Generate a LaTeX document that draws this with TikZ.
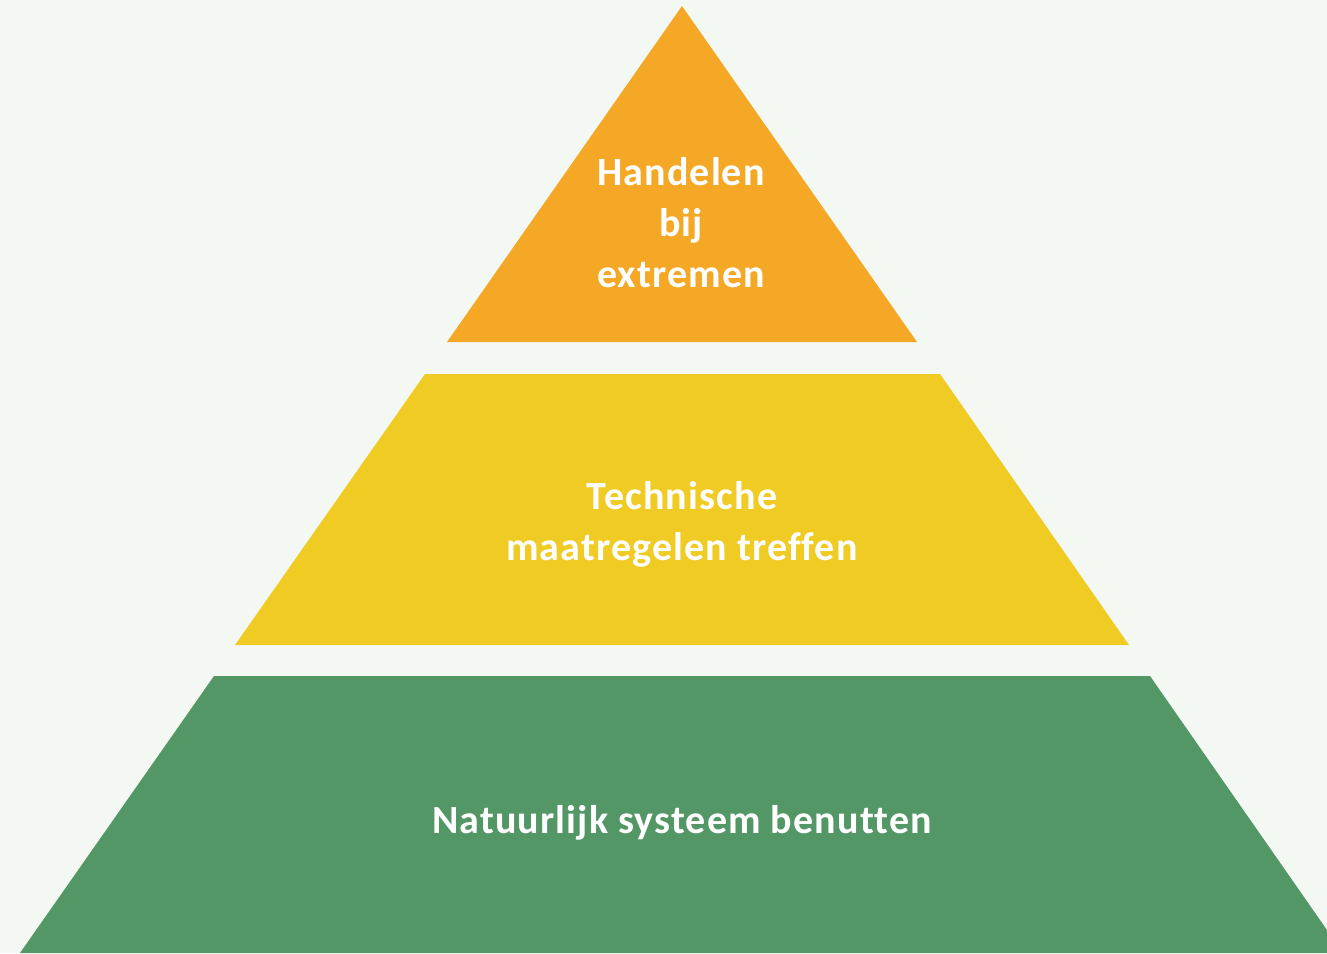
\documentclass[tikz,border=0pt]{standalone}
\usepackage{fontspec}
\setmainfont{Carlito}[Ligatures=NoCommon,LetterSpace=2.8]
\definecolor{bgA}{HTML}{F3F9F2}
\definecolor{orangeA}{HTML}{F4A825}
\definecolor{yellowA}{HTML}{EFCB23}
\definecolor{greenA}{HTML}{549767}
\begin{document}
\begin{tikzpicture}[x=1pt,y=-1pt,line join=round,
	lbl/.style={text=white,font=\bfseries\fontsize{40}{51}\selectfont,align=center,inner sep=0pt}]
	\clip (0,0) rectangle (1327,953);
	\fill[bgA] (0,0) rectangle (1327,953);
	\path
	(682,6) coordinate (T_0)
	(447,342) coordinate (T_1) (917,342) coordinate (T_2)
	(425,374) coordinate (M_1) (940,374) coordinate (M_2)
	(235,645) coordinate (M_3) (1129,645) coordinate (M_4)
	(214,676) coordinate (B_1) (1150,676) coordinate (B_2)
	(20,953) coordinate (B_3) (1343,953) coordinate (B_4)
	;
	\fill[orangeA] (T_0)--(T_2)--(T_1)--cycle;
	\fill[yellowA] (M_1)--(M_2)--(M_4)--(M_3)--cycle;
	\fill[greenA] (B_1)--(B_2)--(B_4)--(B_3)--cycle;
	\node[lbl] (top) at (681,223) {Handelen\\bij\\extremen};
	\node[lbl] (mid) at (682,524) {Technische\\maatregelen treffen};
	\node[lbl] (base) at (682,823) {Natuurlijk systeem benutten};
\end{tikzpicture}
\end{document}
